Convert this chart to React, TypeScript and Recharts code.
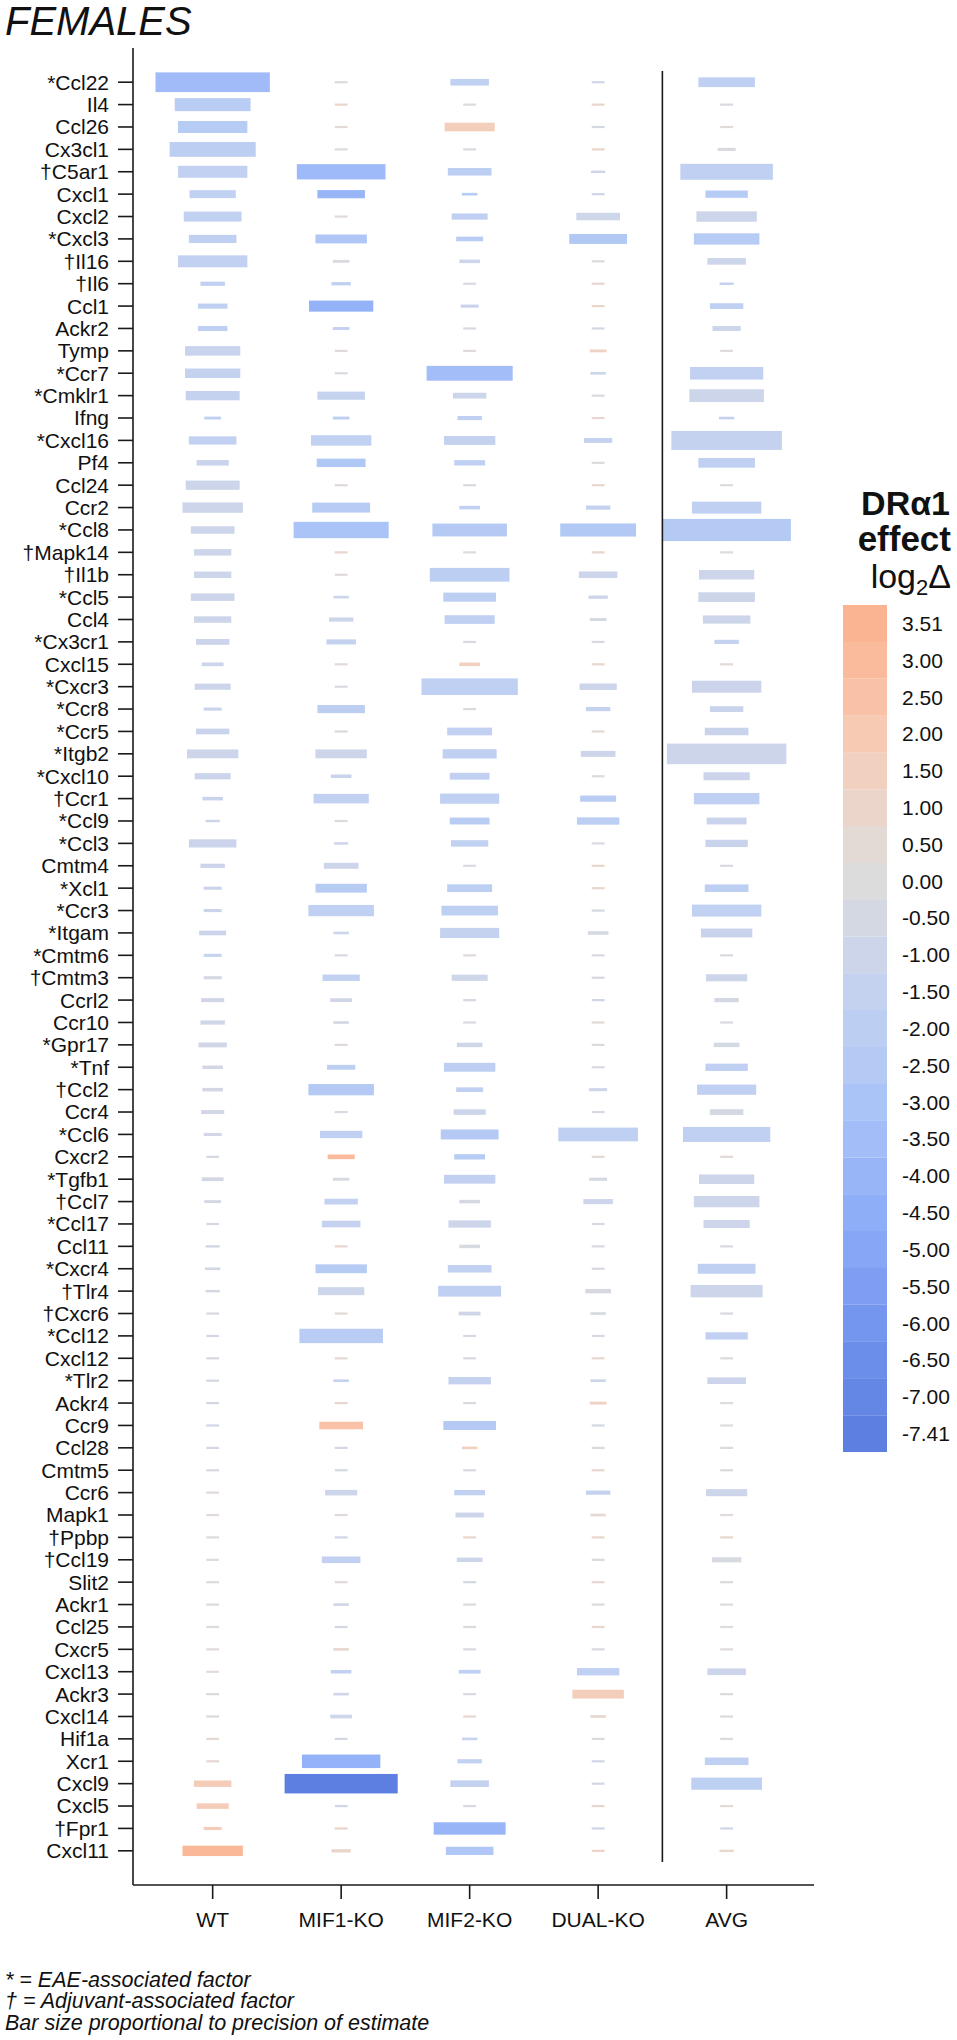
import React from 'react';
import { BarChart, Bar, XAxis, YAxis, ReferenceLine, Cell } from 'recharts';

const FONT = "'Liberation Sans', Arial, sans-serif";

const GENES = ['*Ccl22','Il4','Ccl26','Cx3cl1','†C5ar1','Cxcl1','Cxcl2','*Cxcl3','†Il16','†Il6',
  'Ccl1','Ackr2','Tymp','*Ccr7','*Cmklr1','Ifng','*Cxcl16','Pf4','Ccl24','Ccr2',
  '*Ccl8','†Mapk14','†Il1b','*Ccl5','Ccl4','*Cx3cr1','Cxcl15','*Cxcr3','*Ccr8','*Ccr5',
  '*Itgb2','*Cxcl10','†Ccr1','*Ccl9','*Ccl3','Cmtm4','*Xcl1','*Ccr3','*Itgam','*Cmtm6',
  '†Cmtm3','Ccrl2','Ccr10','*Gpr17','*Tnf','†Ccl2','Ccr4','*Ccl6','Cxcr2','*Tgfb1',
  '†Ccl7','*Ccl17','Ccl11','*Cxcr4','†Tlr4','†Cxcr6','*Ccl12','Cxcl12','*Tlr2','Ackr4',
  'Ccr9','Ccl28','Cmtm5','Ccr6','Mapk1','†Ppbp','†Ccl19','Slit2','Ackr1','Ccl25',
  'Cxcr5','Cxcl13','Ackr3','Cxcl14','Hif1a','Xcr1','Cxcl9','Cxcl5','†Fpr1','Cxcl11'];

const GROUPS = ['WT', 'MIF1-KO', 'MIF2-KO', 'DUAL-KO', 'AVG'];

// log2 effect of DRa1 per gene
const WT_EFF = [-3.6,-2.2,-2.3,-2.0,-1.6,-1.7,-1.7,-1.8,-1.6,-1.8,
  -1.8,-1.8,-1.3,-1.5,-1.5,-1.8,-1.6,-1.2,-1.0,-1.0,
  -1.0,-1.0,-1.0,-1.0,-1.0,-1.1,-1.0,-1.0,-1.2,-1.2,
  -1.0,-1.1,-1.2,-1.0,-1.1,-1.1,-1.2,-1.2,-1.1,-1.4,
  -0.5,-0.8,-0.8,-0.8,-0.6,-0.6,-0.7,-0.7,-0.5,-0.6,
  -0.6,-0.5,-0.6,-0.6,-0.6,-0.4,-0.6,-0.4,-0.6,-0.6,
  -0.8,-0.6,-0.2,0.3,0.3,0,0.3,0.2,0.2,0.2,
  0.3,0.4,-0.2,-0.2,0.7,0.7,1.8,1.8,1.8,3.2];
const MIF1_EFF = [0.2,1.0,0.5,0,-3.7,-4.0,0.3,-2.8,-0.2,-1.8,
  -4.2,-1.6,0.3,-0.2,-1.4,-2.0,-1.7,-2.7,0.3,-2.3,
  -3.0,0.8,0.3,-1.0,-1.0,-1.5,0.4,-0.3,-2.0,-0.2,
  -1.0,-1.2,-1.6,-0.1,-1.0,-1.0,-2.3,-1.8,-1.0,-0.3,
  -1.6,-0.8,-0.6,0.3,-2.0,-2.5,-0.3,-1.8,3.0,-0.4,
  -1.6,-1.5,0.8,-2.3,-1.0,0.6,-2.2,0.7,-1.5,0.8,
  2.5,-0.6,-0.5,-1.0,0.3,-0.8,-1.6,0.3,-0.8,-0.6,
  0.8,-1.6,-0.8,-0.9,-0.6,-4.2,-7.41,-0.8,1.0,1.0];
const MIF2_EFF = [-1.7,0,1.7,-0.2,-2.0,-2.3,-1.8,-2.2,-1.0,-0.3,
  -1.2,-0.3,0.3,-3.5,-1.0,-1.8,-1.5,-1.8,-0.2,-1.8,
  -2.5,0,-2.0,-2.0,-1.8,-0.3,1.5,-1.8,-0.1,-1.6,
  -1.8,-1.6,-1.8,-2.2,-1.7,-0.2,-2.0,-1.9,-1.5,0.3,
  -0.9,-0.4,-0.3,-0.9,-2.0,-1.8,-1.0,-2.5,-2.3,-1.6,
  -0.5,-1.0,-0.3,-1.6,-1.8,-0.8,-0.4,-0.3,-1.5,-0.2,
  -2.5,1.5,-0.2,-1.6,-1.0,0.9,-1.0,-0.6,-0.1,-0.1,
  -0.2,-1.8,-0.3,0.8,-1.2,-1.7,-1.5,-0.3,-4.0,-2.8];
const DUAL_EFF = [-0.8,1.0,-0.5,1.0,-1.0,-0.8,-0.9,-2.6,-0.1,0.8,
  1.0,-0.5,1.3,-1.0,-0.2,0.8,-1.5,0,0.8,-1.5,
  -2.6,0.9,-1.0,-1.0,-0.5,-0.2,0.9,-1.0,-1.5,0.4,
  -1.0,-0.1,-2.2,-2.0,-0.3,0.9,0.9,-0.5,-0.5,-0.3,
  -0.4,-0.8,0.6,-0.1,-0.3,-1.0,-0.4,-1.8,0.5,-0.5,
  -1.0,-0.4,-0.3,-0.4,-0.4,-0.4,-0.4,0.8,-1.0,1.3,
  -0.6,-0.2,0.8,-1.5,0.6,0.9,-0.2,0.8,-0.1,0.8,
  -0.2,-1.8,1.7,0.8,-0.1,-0.8,-0.6,0.8,-0.8,1.2];
const AVG_EFF = [-1.8,-0.3,0.3,-0.2,-1.8,-2.3,-1.0,-2.3,-1.0,-1.5,
  -1.8,-1.0,0.2,-1.6,-1.0,-1.5,-1.5,-1.8,0.1,-1.8,
  -2.5,0.2,-1.0,-1.0,-1.0,-1.5,0.4,-1.1,-1.2,-1.2,
  -1.0,-1.1,-1.8,-1.2,-1.2,-0.2,-2.0,-1.7,-1.2,-0.2,
  -1.0,-0.5,-0.3,-0.5,-1.8,-1.8,-0.5,-1.8,0.4,-1.0,
  -1.0,-1.0,-0.3,-1.8,-1.0,-0.2,-1.6,-0.1,-1.1,0.2,
  0.2,-0.2,-0.1,-1.0,0.3,0.8,-0.3,-0.1,0.2,0,
  0.2,-1.0,-0.1,-0.1,-0.1,-1.8,-1.9,0.6,-0.8,0.9];

// precision of estimate (bar size proportional to it)
const WT_PREC = [8.9,5.9,5.4,6.7,5.4,3.6,4.5,3.7,5.4,1.9,
  2.3,2.3,4.3,4.3,4.2,1.3,3.7,2.5,4.2,4.7,
  3.4,2.9,2.9,3.4,2.9,2.6,1.7,2.8,1.4,2.6,
  4.0,2.8,1.6,1.1,3.7,1.9,1.4,1.4,2.1,1.4,
  1.4,1.8,1.9,2.2,1.6,1.6,1.8,1.4,1.0,1.7,
  1.3,1.0,1.1,1.2,1.1,1.0,1.0,1.0,1.0,1.0,
  1.0,1.0,1.0,1.0,1.0,1.0,1.0,1.0,1.0,1.0,
  1.0,1.0,1.0,1.0,1.0,1.0,2.9,2.5,1.4,4.7];
const MIF1_PREC = [1.0,1.0,1.0,1.0,6.9,3.7,1.0,4.0,1.3,1.5,
  5.0,1.3,1.0,1.0,3.7,1.3,4.7,3.8,1.0,4.5,
  7.4,1.0,1.0,1.2,1.9,2.3,1.0,1.0,3.7,1.0,
  4.0,1.6,4.3,1.0,1.1,2.7,4.0,5.1,1.2,1.0,
  2.9,1.7,1.2,1.0,2.2,5.1,1.0,3.3,2.1,1.3,
  2.6,3.0,1.0,4.0,3.6,1.0,6.5,1.0,1.2,1.0,
  3.4,1.0,1.0,2.5,1.0,1.0,3.0,1.0,1.2,1.0,
  1.2,1.6,1.2,1.7,1.0,6.1,8.8,1.0,1.0,1.5];
const MIF2_PREC = [3.0,1.0,3.9,1.0,3.4,1.2,2.8,2.1,1.6,1.0,
  1.4,1.0,1.0,6.7,2.6,1.9,4.0,2.4,1.0,1.6,
  5.8,1.0,6.2,4.1,3.9,1.0,1.6,7.5,1.0,3.5,
  4.2,3.1,4.6,3.1,2.9,1.0,3.5,4.4,4.6,1.0,
  2.8,1.0,1.0,2.0,4.0,2.1,2.5,4.5,2.4,4.0,
  1.6,3.3,1.6,3.4,4.9,1.7,1.0,1.0,3.3,1.0,
  4.1,1.2,1.0,2.4,2.2,1.0,2.0,1.0,1.0,1.0,
  1.0,1.7,1.0,1.0,1.2,1.9,3.0,1.0,5.6,3.7];
const DUAL_PREC = [1.0,1.0,1.0,1.0,1.1,1.0,3.4,4.5,1.0,1.0,
  1.0,1.0,1.3,1.2,1.0,1.0,2.2,1.0,1.0,1.9,
  5.9,1.0,3.0,1.5,1.3,1.0,1.0,2.9,1.9,1.0,
  2.7,1.0,2.8,3.3,1.0,1.0,1.0,1.0,1.6,1.0,
  1.0,1.0,1.0,1.0,1.0,1.4,1.0,6.2,1.0,1.4,
  2.3,1.0,1.0,1.0,2.0,1.2,1.0,1.0,1.2,1.3,
  1.0,1.0,1.0,1.9,1.2,1.0,1.0,1.0,1.0,1.0,
  1.0,3.3,4.0,1.2,1.0,1.0,1.0,1.0,1.0,1.0];
const AVG_PREC = [4.4,1.0,1.0,1.4,7.2,3.3,4.7,5.1,3.0,1.1,
  2.6,2.2,1.0,5.7,5.8,1.2,8.6,4.4,1.0,5.4,
  10.0,1.0,4.3,4.4,3.7,1.9,1.0,5.4,2.6,3.4,
  9.3,3.6,5.1,3.1,3.3,1.0,3.4,5.4,4.0,1.0,
  3.2,1.9,1.0,2.0,3.3,4.6,2.6,6.8,1.0,4.3,
  5.1,3.6,1.0,4.5,5.6,1.0,3.3,1.0,3.0,1.0,
  1.0,1.0,1.0,3.2,1.0,1.0,2.3,1.0,1.0,1.0,
  1.0,3.0,1.0,1.0,1.0,3.4,5.5,1.0,1.0,1.1];

const LEGEND_LEVELS = [3.51,3,2.5,2,1.5,1,0.5,0,-0.5,-1,-1.5,-2,-2.5,-3,-3.5,-4,-4.5,-5,-5.5,-6,-6.5,-7,-7.41];
const LEGEND_COLORS = ['#fab492','#fabb9c','#f9c2a7','#f6cab3','#f1d0c0','#ebd5cb','#e3dad6','#dcdcdc',
  '#d4d8e3','#cdd5ea','#c4d2f0','#bccff3','#b4caf5','#abc4f7','#a2bdf8','#98b5f8','#8faef8',
  '#86a6f6','#7e9ef3','#7596ef','#6c8eeb','#6487e6','#5c7fe1'];

const SERIES = [
  { eff: WT_EFF, prec: WT_PREC },
  { eff: MIF1_EFF, prec: MIF1_PREC },
  { eff: MIF2_EFF, prec: MIF2_PREC },
  { eff: DUAL_EFF, prec: DUAL_PREC },
  { eff: AVG_EFF, prec: AVG_PREC },
];

const hex = (h: string) => [1, 3, 5].map((k) => parseInt(h.slice(k, k + 2), 16));
function effectColor(v: number): string {
  const L = LEGEND_LEVELS;
  if (v >= L[0]) return LEGEND_COLORS[0];
  if (v <= L[L.length - 1]) return LEGEND_COLORS[L.length - 1];
  for (let i = 0; i < L.length - 1; i++) {
    if (v <= L[i] && v >= L[i + 1]) {
      const t = (L[i] - v) / (L[i] - L[i + 1]);
      const a = hex(LEGEND_COLORS[i]);
      const b = hex(LEGEND_COLORS[i + 1]);
      const c = a.map((x, k) => Math.round(x + (b[k] - x) * t));
      return `rgb(${c[0]},${c[1]},${c[2]})`;
    }
  }
  return '#dcdcdc';
}

const rows = GENES.map((gene, i) => {
  const r: any = { gene, eff: SERIES.map((s) => s.eff[i]) };
  SERIES.forEach((s, j) => {
    r[`r${j}`] = [j - s.prec[i] / 20, j + s.prec[i] / 20];
  });
  return r;
});

const legendRows = LEGEND_LEVELS.map((v) => ({ label: v.toFixed(2), one: 1 }));

const BarShape = (props: any) => {
  const { x, y, width, height, fill } = props;
  if (width == null || isNaN(width)) return null;
  const cy = y + height / 2;
  const h = Math.max(width / 5.8, 1.8);
  return <rect x={x} y={cy - h / 2} width={width} height={h} fill={fill} />;
};

const SepLine = (p: any) => {
  const { x1, y1, x2, y2 } = p;
  const half = Math.abs(y2 - y1) / (GENES.length - 1) / 2;
  return (
    <line x1={x1} x2={x2} y1={Math.min(y1, y2) - half} y2={Math.max(y1, y2) + half}
      stroke="#1a1a1a" strokeWidth={1.6} />
  );
};

const AXIS = { stroke: '#1a1a1a', strokeWidth: 1.6 };
const TICK = { fontSize: 21, fill: '#111', fontFamily: FONT };

export default function App() {
  return (
    <div style={{ position: 'absolute', left: 0, top: 0, width: 957, height: 2040, background: '#fff' }}>
      <div style={{ position: 'absolute', left: 0, top: 0 }}>
        <BarChart layout="vertical" width={957} height={2040} data={rows}
          margin={{ top: 48, right: 143, bottom: 95, left: 8 }}>
          <XAxis type="number" domain={[-0.62, 4.68]} allowDataOverflow ticks={[0, 1, 2, 3, 4]}
            interval={0} tickFormatter={(v: number) => GROUPS[v]} height={60}
            tickSize={14} tickMargin={13} tick={TICK} axisLine={AXIS} tickLine={AXIS} />
          {SERIES.map((s, j) => (
            <YAxis key={j} yAxisId={`y${j}`} type="category" dataKey="gene" hide={j > 0}
              width={125} padding={{ top: 23, bottom: 23 }} interval={0}
              tickSize={15} tickMargin={9} tick={TICK} axisLine={AXIS} tickLine={AXIS} />
          ))}
          {SERIES.map((s, j) => (
            <Bar key={j} dataKey={`r${j}`} yAxisId={`y${j}`} isAnimationActive={false}
              shape={(p: any) => <BarShape {...p} fill={effectColor(p.payload.eff[j])} />} />
          ))}
          <ReferenceLine yAxisId="y0" ifOverflow="visible"
            segment={[{ x: 3.5, y: GENES[0] }, { x: 3.5, y: GENES[GENES.length - 1] }]}
            shape={SepLine} />
        </BarChart>
      </div>
      <div style={{ position: 'absolute', left: 843, top: 605 }}>
        <BarChart layout="vertical" width={114} height={847} data={legendRows}
          margin={{ top: 0, right: 0, bottom: 0, left: 0 }} barCategoryGap={0}>
          <XAxis type="number" domain={[0, 1]} hide />
          <YAxis type="category" dataKey="label" orientation="right" width={70} interval={0}
            axisLine={false} tickLine={false} tickSize={6} tickMargin={9} tick={TICK} />
          <Bar dataKey="one" isAnimationActive={false}>
            {legendRows.map((r, i) => <Cell key={i} fill={LEGEND_COLORS[i]} />)}
          </Bar>
        </BarChart>
      </div>
      <svg width={957} height={2040} style={{ position: 'absolute', left: 0, top: 0, pointerEvents: 'none' }}>
        <text x={5} y={35} fontSize={40} fontStyle="italic" fontFamily={FONT} fill="#111">FEMALES</text>
        <g fontFamily={FONT} fill="#111" textAnchor="end">
          <text x={950} y={515} fontSize={34} fontWeight="bold">DRα1</text>
          <text x={951} y={551} fontSize={35} fontWeight="bold">effect</text>
          <text x={951} y={588} fontSize={34}>log<tspan fontSize={22} dy={7}>2</tspan><tspan dy={-7} fontSize={34}>Δ</tspan></text>
        </g>
        <g fontFamily={FONT} fill="#111" fontStyle="italic" fontSize={21.5}>
          <text x={5} y={1987}>* = EAE-associated factor</text>
          <text x={5} y={2008}>† = Adjuvant-associated factor</text>
          <text x={5} y={2030}>Bar size proportional to precision of estimate</text>
        </g>
      </svg>
    </div>
  );
}
